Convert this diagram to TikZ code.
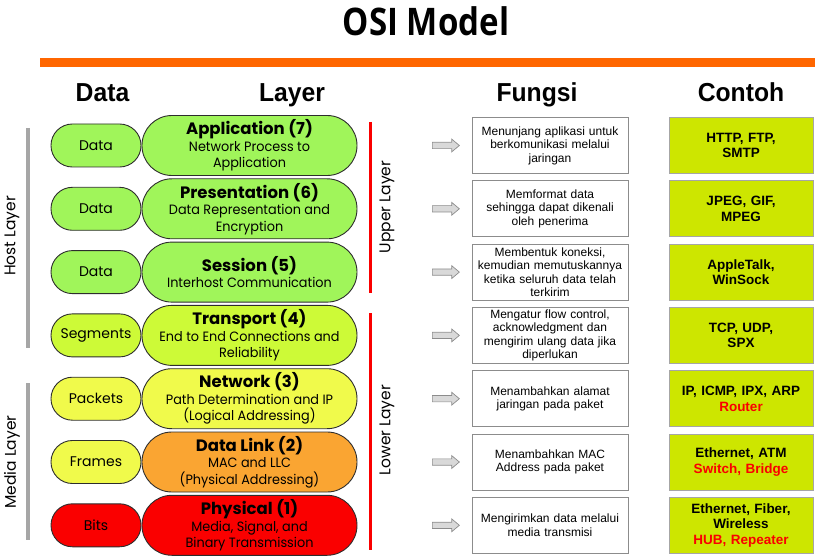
\documentclass[tikz,border=0pt]{standalone}
\usepackage{fontspec}
\usetikzlibrary{shapes.arrows}
\newfontfamily\popfont{Poppins}
\newfontfamily\popsub[FakeStretch=0.95]{Poppins}
\newfontfamily\arialfont{Liberation Sans}
\newfontfamily\titlefont[FakeStretch=0.87]{Open Sans}
\newfontfamily\headfont[FakeStretch=0.95]{Liberation Sans}
\newcommand\pilltitle[1]{{\popfont\bfseries\fontsize{16.5}{18}\selectfont #1}}
\definecolor{lgreen}{RGB}{160,245,90}
\definecolor{ygreen}{RGB}{205,250,55}
\definecolor{lyellow}{RGB}{240,250,75}
\definecolor{lorange}{RGB}{250,165,50}
\definecolor{lred}{RGB}{250,0,0}
\definecolor{contoh}{RGB}{205,230,0}
\definecolor{barorange}{RGB}{255,102,0}
\definecolor{pillline}{RGB}{45,45,45}
\begin{document}
\begin{tikzpicture}[x=1pt,y=-1pt,
  bigpill/.style={draw=pillline,line width=0.9pt,rounded corners=29.9pt,minimum width=215pt,minimum height=60pt,inner sep=0pt,align=center,font=\popsub\fontsize{13.5}{16.5}\selectfont},
  smallpill/.style={draw=pillline,line width=0.9pt,rounded corners=21.4pt,minimum width=90pt,minimum height=43pt,inner sep=0pt,align=center,font=\popfont\fontsize{14}{16}\selectfont},
  fbox/.style={draw=black!45,line width=0.8pt,minimum width=156pt,minimum height=56pt,text width=150pt,inner sep=0pt,align=center,font=\arialfont\fontsize{12}{13.4}\selectfont},
  cbox/.style={draw=black!35,line width=0.8pt,fill=contoh,minimum width=144pt,minimum height=56pt,text width=140pt,inner sep=0pt,align=center,font=\arialfont\bfseries\fontsize{13.5}{15.5}\selectfont},
  garrow/.style={single arrow,draw=black!45,fill=black!15,line width=0.7pt,minimum height=27pt,minimum width=12pt,inner sep=2.8pt,single arrow head extend=3.2pt,single arrow tip angle=80,anchor=west},
  header/.style={font=\headfont\bfseries\fontsize{26}{30}\selectfont,anchor=base},
  sidelabel/.style={font=\popfont\fontsize{15.5}{18}\selectfont,rotate=90},
  graybar/.style={draw=black!35,line width=4pt},
  redbar/.style={draw=lred,line width=3pt}
]
\useasboundingbox (0,0) rectangle (815,559);
% title and bar
\node[font=\titlefont\bfseries\fontsize{38}{44}\selectfont,anchor=base] (title) at (426,36) {OSI Model};
\fill[barorange] (40,58) rectangle (815,67);
% headers
\node[header] (hdata) at (102.5,102) {Data};
\node[header] (hlayer) at (292,102) {Layer};
\node[header] (hfungsi) at (537,102) {Fungsi};
\node[header] (hcontoh) at (741,102) {Contoh};
% side bars
\coordinate (hostA) at (28,128); \coordinate (hostB) at (28,348);
\coordinate (mediaA) at (28,383); \coordinate (mediaB) at (28,540);
\draw[graybar] (hostA) -- (hostB);
\draw[graybar] (mediaA) -- (mediaB);
\node[sidelabel] (host) at (12,236) {Host Layer};
\node[sidelabel] (media) at (12,462) {Media Layer};
\coordinate (upA) at (370,122); \coordinate (upB) at (370,293);
\coordinate (loA) at (370,313); \coordinate (loB) at (370,550);
\draw[redbar] (upA) -- (upB);
\draw[redbar] (loA) -- (loB);
\node[sidelabel] (upper) at (387,207) {Upper Layer};
\node[sidelabel] (lower) at (387,430) {Lower Layer};
% rows
\def\rA{145.5}\def\rB{208.8}\def\rC{272.1}\def\rD{335.4}\def\rE{398.7}\def\rF{462}\def\rG{525.3}
% small pills
\node[smallpill,fill=lgreen] (d1) at (96,\rA) {Data};
\node[smallpill,fill=lgreen] (d2) at (96,\rB) {Data};
\node[smallpill,fill=lgreen] (d3) at (96,\rC) {Data};
\node[smallpill,fill=ygreen] (d4) at (96,\rD) {Segments};
\node[smallpill,fill=lyellow] (d5) at (96,\rE) {Packets};
\node[smallpill,fill=lyellow] (d6) at (96,\rF) {Frames};
\node[smallpill,fill=lred] (d7) at (96,\rG) {Bits};
% big pills
\node[bigpill,fill=lgreen] (l7) at (249.5,\rA) {\pilltitle{Application (7)}\\Network Process to\\Application};
\node[bigpill,fill=lgreen] (l6) at (249.5,\rB) {\pilltitle{Presentation (6)}\\Data Representation and\\Encryption};
\node[bigpill,fill=lgreen] (l5) at (249.5,\rC) {\pilltitle{Session (5)}\\Interhost Communication};
\node[bigpill,fill=ygreen] (l4) at (249.5,\rD) {\pilltitle{Transport (4)}\\End to End Connections and\\Reliability};
\node[bigpill,fill=lyellow] (l3) at (249.5,\rE) {\pilltitle{Network (3)}\\Path Determination and IP\\(Logical Addressing)};
\node[bigpill,fill=lorange] (l2) at (249.5,\rF) {\pilltitle{Data Link (2)}\\MAC and LLC\\(Physical Addressing)};
\node[bigpill,fill=lred] (l1) at (249.5,\rG) {\pilltitle{Physical (1)}\\Media, Signal, and\\Binary Transmission};
% arrows
\node[garrow] (a7) at (432,\rA) {};
\node[garrow] (a6) at (432,\rB) {};
\node[garrow] (a5) at (432,\rC) {};
\node[garrow] (a4) at (432,\rD) {};
\node[garrow] (a3) at (432,\rE) {};
\node[garrow] (a2) at (432,\rF) {};
\node[garrow] (a1) at (432,\rG) {};
% fungsi
\node[fbox] (f7) at (550,\rA) {Menunjang aplikasi untuk\\berkomunikasi melalui\\jaringan};
\node[fbox] (f6) at (550,\rB) {Memformat data\\sehingga dapat dikenali\\oleh penerima};
\node[fbox] (f5) at (550,\rC) {Membentuk koneksi,\\kemudian memutuskannya\\ketika seluruh data telah\\terkirim};
\node[fbox] (f4) at (550,\rD) {Mengatur flow control,\\acknowledgment dan\\mengirim ulang data jika\\diperlukan};
\node[fbox] (f3) at (550,\rE) {Menambahkan alamat\\jaringan pada paket};
\node[fbox] (f2) at (550,\rF) {Menambahkan MAC\\Address pada paket};
\node[fbox] (f1) at (550,\rG) {Mengirimkan data melalui\\media transmisi};
% contoh
\node[cbox] (c7) at (741,\rA) {HTTP, FTP,\\SMTP};
\node[cbox] (c6) at (741,\rB) {JPEG, GIF,\\MPEG};
\node[cbox] (c5) at (741,\rC) {AppleTalk,\\WinSock};
\node[cbox] (c4) at (741,\rD) {TCP, UDP,\\SPX};
\node[cbox] (c3) at (741,\rE) {IP, ICMP, IPX, ARP\\\textcolor{lred}{Router}};
\node[cbox] (c2) at (741,\rF) {Ethernet, ATM\\\textcolor{lred}{Switch, Bridge}};
\node[cbox] (c1) at (741,\rG) {Ethernet, Fiber,\\Wireless\\\textcolor{lred}{HUB, Repeater}};
\end{tikzpicture}
\end{document}
